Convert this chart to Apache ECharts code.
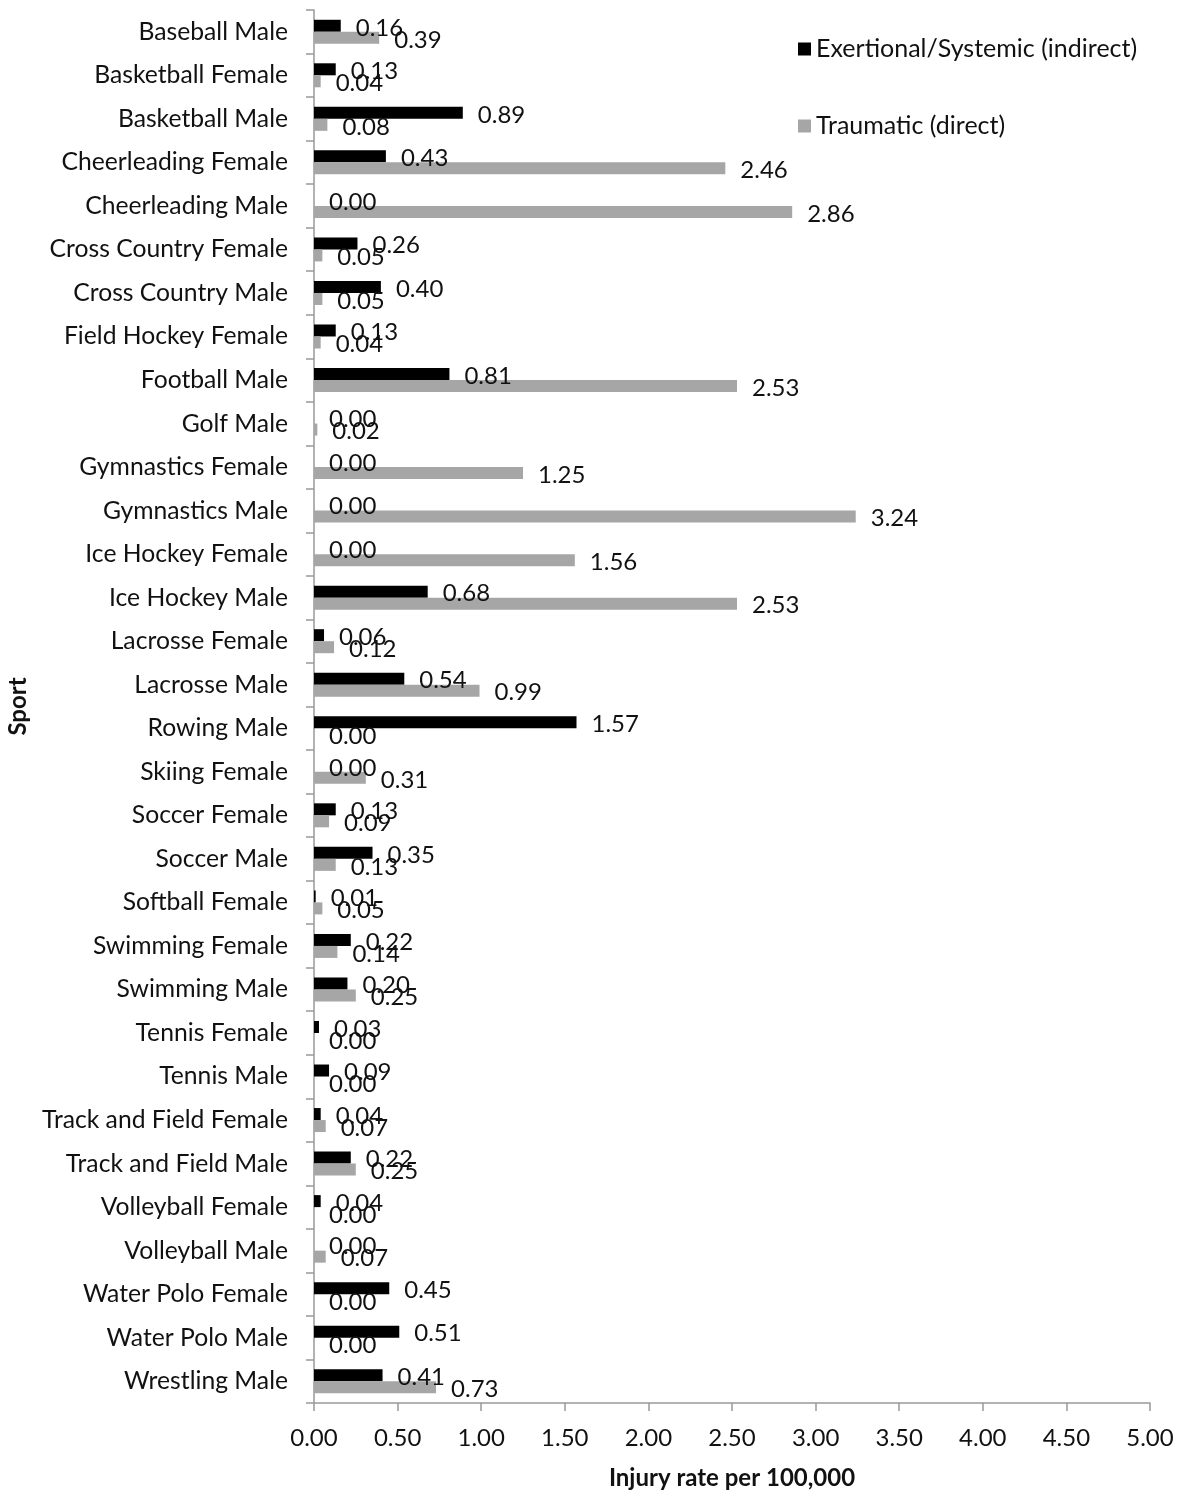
<!DOCTYPE html>
<html>
<head>
<meta charset="utf-8">
<script src="https://cdn.jsdelivr.net/npm/echarts@6/dist/echarts.min.js"></script>
<style>
  html, body { margin: 0; padding: 0; background: #fff; }
  #chart { width: 1182px; height: 1490px; }
</style>
</head>
<body>
<div id="chart"></div>
<script>
// Sport categories, top to bottom
const sports = [
  'Baseball Male', 'Basketball Female', 'Basketball Male', 'Cheerleading Female',
  'Cheerleading Male', 'Cross Country Female', 'Cross Country Male', 'Field Hockey Female',
  'Football Male', 'Golf Male', 'Gymnastics Female', 'Gymnastics Male',
  'Ice Hockey Female', 'Ice Hockey Male', 'Lacrosse Female', 'Lacrosse Male',
  'Rowing Male', 'Skiing Female', 'Soccer Female', 'Soccer Male',
  'Softball Female', 'Swimming Female', 'Swimming Male', 'Tennis Female',
  'Tennis Male', 'Track and Field Female', 'Track and Field Male', 'Volleyball Female',
  'Volleyball Male', 'Water Polo Female', 'Water Polo Male', 'Wrestling Male'
];

// Injury rate per 100,000 — exertional / systemic (indirect)
const exertional = [
  0.16, 0.13, 0.89, 0.43, 0.00, 0.26, 0.40, 0.13,
  0.81, 0.00, 0.00, 0.00, 0.00, 0.68, 0.06, 0.54,
  1.57, 0.00, 0.13, 0.35, 0.01, 0.22, 0.20, 0.03,
  0.09, 0.04, 0.22, 0.04, 0.00, 0.45, 0.51, 0.41
];

// Injury rate per 100,000 — traumatic (direct)
const traumatic = [
  0.39, 0.04, 0.08, 2.46, 2.86, 0.05, 0.05, 0.04,
  2.53, 0.02, 1.25, 3.24, 1.56, 2.53, 0.12, 0.99,
  0.00, 0.31, 0.09, 0.13, 0.05, 0.14, 0.25, 0.00,
  0.00, 0.07, 0.25, 0.00, 0.07, 0.00, 0.00, 0.73
];

const seriesNames = ['Exertional/Systemic (indirect)', 'Traumatic (direct)'];

const FONT = 'Lato, "Open Sans", sans-serif';
const TXT = '#111111';
const AXIS = '#999999';
const FS = 24;

const valueLabel = {
  show: true,
  position: 'right',
  distance: 15,
  offset: [0, 2],
  fontFamily: FONT,
  fontSize: FS,
  color: TXT,
  formatter: p => p.value.toFixed(2)
};

const chart = echarts.init(document.getElementById('chart'), null, { renderer: 'canvas' });

chart.setOption({
  animation: false,
  backgroundColor: '#ffffff',
  textStyle: { fontFamily: FONT },
  grid: { left: 314, right: 32, top: 10, bottom: 87, containLabel: false, outerBoundsMode: 'none' },
  legend: {
    orient: 'vertical',
    left: 793,
    top: 29,
    itemWidth: 13,
    itemHeight: 13,
    itemGap: 47,
    icon: 'rect',
    textStyle: { fontFamily: FONT, fontSize: 25, color: TXT, lineHeight: 30 },
    data: seriesNames
  },
  xAxis: {
    type: 'value',
    min: 0,
    max: 5,
    interval: 0.5,
    name: 'Injury rate per 100,000',
    nameLocation: 'middle',
    nameGap: 63,
    nameTextStyle: { fontFamily: FONT, fontSize: FS, fontWeight: 'bold', color: TXT },
    axisLine: { show: true, lineStyle: { color: AXIS, width: 1.5 } },
    axisTick: { show: true, length: 8, lineStyle: { color: AXIS, width: 1.5 } },
    axisLabel: { fontFamily: FONT, fontSize: FS, color: TXT, margin: 23, formatter: v => v.toFixed(2) },
    splitLine: { show: false }
  },
  yAxis: {
    type: 'category',
    inverse: true,
    data: sports,
    name: 'Sport',
    nameLocation: 'middle',
    nameGap: 284,
    nameTextStyle: { fontFamily: FONT, fontSize: FS, fontWeight: 'bold', color: TXT },
    axisLine: { show: true, lineStyle: { color: AXIS, width: 1.5 } },
    axisTick: { show: true, length: 8, alignWithLabel: false, lineStyle: { color: AXIS, width: 1.5 } },
    axisLabel: { fontFamily: FONT, fontSize: 24.7, color: TXT, margin: 26 },
    splitLine: { show: false }
  },
  series: [
    {
      name: seriesNames[0],
      type: 'bar',
      data: exertional,
      barWidth: 12,
      barGap: '0%',
      itemStyle: { color: '#000000' },
      label: valueLabel
    },
    {
      name: seriesNames[1],
      type: 'bar',
      data: traumatic,
      barWidth: 12,
      barGap: '0%',
      itemStyle: { color: '#a6a6a6' },
      label: valueLabel
    }
  ]
});
</script>
</body>
</html>
